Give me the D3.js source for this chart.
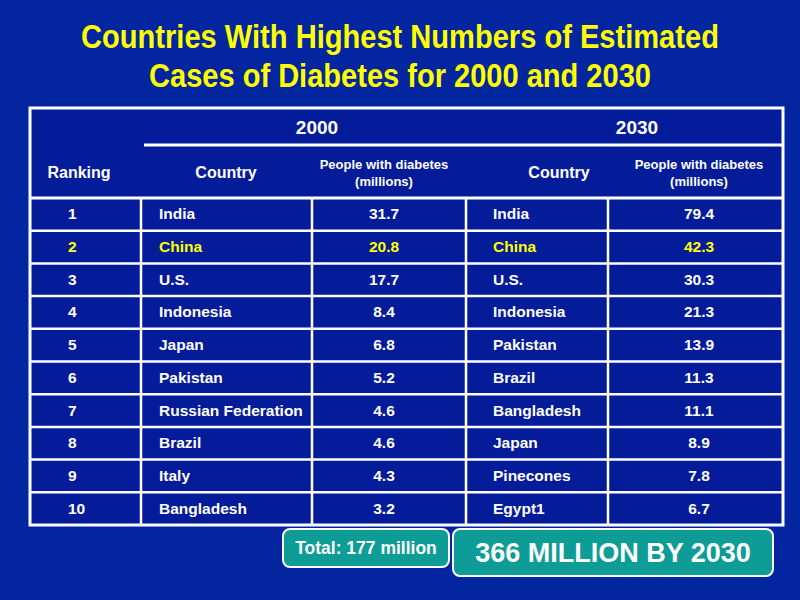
<!DOCTYPE html>
<html>
<head>
<meta charset="utf-8">
<script src="https://cdn.jsdelivr.net/npm/d3@7/dist/d3.min.js"></script>
<style>
  html, body { margin: 0; padding: 0; background: #0325a0; }
  svg { display: block; }
</style>
</head>
<body>
<svg id="chart" width="800" height="600"></svg>
<script>
// ---------------- data ----------------
const titleLines = ["Countries With Highest Numbers of Estimated", "Cases of Diabetes for 2000 and 2030"];
const years = ["2000", "2030"];
const ranks = [1, 2, 3, 4, 5, 6, 7, 8, 9, 10];
const countries2000 = ["India", "China", "U.S.", "Indonesia", "Japan", "Pakistan", "Russian Federation", "Brazil", "Italy", "Bangladesh"];
const values2000 = [31.7, 20.8, 17.7, 8.4, 6.8, 5.2, 4.6, 4.6, 4.3, 3.2];
const countries2030 = ["India", "China", "U.S.", "Indonesia", "Pakistan", "Brazil", "Bangladesh", "Japan", "Pinecones", "Egypt1"];
const values2030 = [79.4, 42.3, 30.3, 21.3, 13.9, 11.3, 11.1, 8.9, 7.8, 6.7];
const highlightRank = 2;
const totalLabel = "Total: 177 million";
const projectionLabel = "366 MILLION BY 2030";

// ---------------- layout ----------------
const svg = d3.select("#chart");
const W = 800, H = 600;
const FONT = "'Liberation Sans', Arial, Helvetica, sans-serif";
const WHITE = "#ffffff", YELLOW = "#ffff00", TEAL = "#0d9c96";

svg.append("rect").attr("width", W).attr("height", H).attr("fill", "#0325a0");

// title (condensed by horizontal scaling to the reference's width)
const titleY = [48, 87];
const titleW = [638, 502];
svg.selectAll("text.title").data(titleLines).join("text")
  .attr("class", "title")
  .attr("x", 0).attr("y", 0)
  .attr("text-anchor", "middle")
  .attr("font-family", FONT).attr("font-weight", "bold").attr("font-size", 33)
  .attr("fill", YELLOW)
  .text(d => d)
  .each(function (d, i) {
    const natural = this.getComputedTextLength();
    const sx = titleW[i] / natural;
    d3.select(this).attr("transform", `translate(400,${titleY[i]}) scale(${sx},1)`);
  });

// table geometry
const tLeft = 30, tRight = 783, tTop = 108, tBottom = 525;
const yearLineY = 145, headBottom = 198;
const colEdges = [30, 141, 312, 466, 608, 783];

const y = d3.scaleBand().domain(ranks).range([headBottom, tBottom]).paddingInner(0).paddingOuter(0);

svg.append("rect")
  .attr("x", tLeft).attr("y", tTop).attr("width", tRight - tLeft).attr("height", tBottom - tTop)
  .attr("fill", "#051c9a");

const lines = svg.append("g").attr("stroke", WHITE).attr("fill", "none");
const hYs = ranks.slice(1).map(r => y(r));
lines.selectAll("line.h").data(hYs).join("line")
  .attr("x1", tLeft).attr("x2", tRight).attr("y1", d => d).attr("y2", d => d)
  .attr("stroke-width", 2.5);
lines.selectAll("line.v").data(colEdges.slice(1, -1)).join("line")
  .attr("x1", d => d).attr("x2", d => d).attr("y1", headBottom).attr("y2", tBottom)
  .attr("stroke-width", 2.5);
lines.append("line").attr("x1", colEdges[1] + 3).attr("x2", tRight).attr("y1", yearLineY).attr("y2", yearLineY).attr("stroke-width", 3);
lines.append("line").attr("x1", tLeft).attr("x2", tRight).attr("y1", headBottom).attr("y2", headBottom).attr("stroke-width", 3);
lines.append("rect").attr("x", tLeft).attr("y", tTop).attr("width", tRight - tLeft).attr("height", tBottom - tTop).attr("stroke-width", 3);

// header texts
const hdr = svg.append("g").attr("font-family", FONT).attr("font-weight", "bold").attr("fill", WHITE).attr("text-anchor", "middle");
const yearX = [317, 637];
hdr.selectAll("text.year").data(years).join("text")
  .attr("x", (d, i) => yearX[i]).attr("y", 134).attr("font-size", 19).text(d => d);
hdr.append("text").attr("x", 79).attr("y", 178).attr("font-size", 16).text("Ranking");
const countryHX = [226, 559];
const peopleHX = [384, 699];
years.forEach((yr, i) => {
  hdr.append("text").attr("x", countryHX[i]).attr("y", 178).attr("font-size", 16).text("Country");
  hdr.append("text").attr("x", peopleHX[i]).attr("y", 169).attr("font-size", 13).text("People with diabetes");
  hdr.append("text").attr("x", peopleHX[i]).attr("y", 186).attr("font-size", 13).text("(millions)");
});

// body rows
const fmt = d3.format(".1f");
const rows = ranks.map((r, i) => ({ rank: r, c0: countries2000[i], v0: values2000[i], c1: countries2030[i], v1: values2030[i] }));
const g = svg.append("g").attr("font-family", FONT).attr("font-weight", "bold").attr("font-size", 15.5);
const rowG = g.selectAll("g.row").data(rows).join("g")
  .attr("transform", d => `translate(0,${y(d.rank) + y.bandwidth() / 2 + 5})`)
  .attr("fill", d => d.rank === highlightRank ? YELLOW : WHITE);
rowG.append("text").attr("x", 68).text(d => d.rank);
rowG.append("text").attr("x", 159).text(d => d.c0);
rowG.append("text").attr("x", peopleHX[0]).attr("text-anchor", "middle").text(d => fmt(d.v0));
rowG.append("text").attr("x", 493).text(d => d.c1);
rowG.append("text").attr("x", peopleHX[1]).attr("text-anchor", "middle").text(d => fmt(d.v1));

// bottom boxes
const boxes = [
  { label: totalLabel, x: 283, y: 529, w: 166, h: 38, fs: 17.5 },
  { label: projectionLabel, x: 453, y: 529, w: 320, h: 47, fs: 27 }
];
const bg = svg.selectAll("g.box").data(boxes).join("g").attr("class", "box");
bg.append("rect")
  .attr("x", d => d.x).attr("y", d => d.y).attr("width", d => d.w).attr("height", d => d.h)
  .attr("rx", 7).attr("ry", 7)
  .attr("fill", TEAL).attr("stroke", WHITE).attr("stroke-width", 2);
bg.append("text")
  .attr("x", d => d.x + d.w / 2).attr("y", d => d.y + d.h / 2 + d.fs * 0.36)
  .attr("text-anchor", "middle")
  .attr("font-family", FONT).attr("font-weight", "bold").attr("font-size", d => d.fs)
  .attr("fill", WHITE).text(d => d.label);
</script>
</body>
</html>
